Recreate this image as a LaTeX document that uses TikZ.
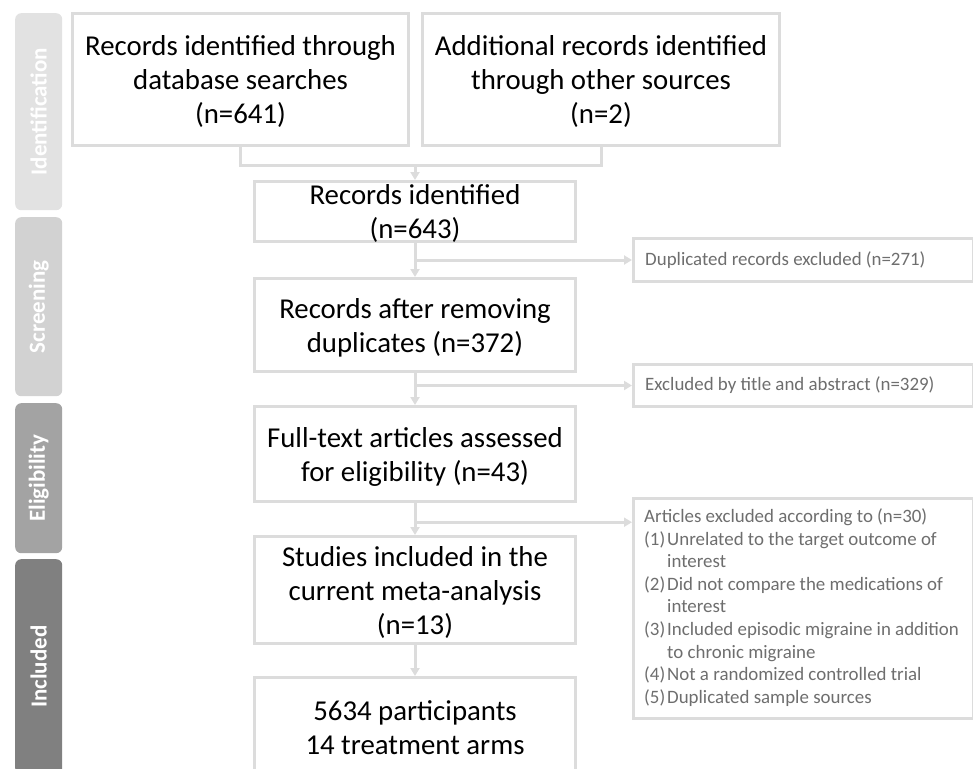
\documentclass[tikz,border=0pt]{standalone}
\usepackage{fontspec}
\setmainfont{Carlito}
\usetikzlibrary{arrows.meta,calc}
\definecolor{linegray}{RGB}{220,220,220}
\definecolor{smalltext}{RGB}{110,110,110}
\definecolor{tabA}{RGB}{226,226,226}
\definecolor{tabB}{RGB}{210,210,210}
\definecolor{tabC}{RGB}{163,163,163}
\definecolor{tabD}{RGB}{128,128,128}
\newcommand{\bigtext}{\fontsize{28.8}{34}\selectfont}
\newcommand{\smalltxt}{\fontsize{18.9}{22.6}\selectfont}
\newcommand{\tabtext}{\fontsize{23}{27}\selectfont\bfseries}
\begin{document}
\begin{tikzpicture}[x=1pt,y=-1pt,
 stagebox/.style={draw=linegray, line width=3pt, fill=white, align=center, inner sep=0pt, font=\bigtext, text=black, text depth=0pt, anchor=north west},
 sidebox/.style={draw=linegray, line width=3pt, fill=white, inner sep=0pt, anchor=north west, minimum width=340pt},
 sidetext/.style={align=flush left, inner sep=0pt, font=\smalltxt, text=smalltext, anchor=west},
 tabbox/.style={rounded corners=6pt, draw=none, minimum width=47pt, anchor=north west, inner sep=0pt},
 tablabel/.style={rotate=90, text=white, font=\tabtext},
 conn/.style={draw=linegray, line width=3pt},
 arr/.style={conn, -{Triangle[length=8pt,width=9pt]}}
]
\useasboundingbox (0,0) rectangle (973,768);
\begin{scope}
\clip (0,0) rectangle (973,768);
% stage tabs
\node[tabbox, fill=tabA, minimum height=197pt] (t1) at (15,13) {};
\node[tablabel] (l1) at (t1.center) {Identification};
\node[tabbox, fill=tabB, minimum height=179pt] (t2) at (15,217) {};
\node[tablabel] (l2) at (t2.center) {Screening};
\node[tabbox, fill=tabC, minimum height=150pt] (t3) at (15,403) {};
\node[tablabel] (l3) at (t3.center) {Eligibility};
\node[tabbox, fill=tabD, minimum height=215pt] (t4) at (15,559) {};
\node[tablabel] (l4) at (t4.center) {Included};
% main boxes
\node[stagebox, minimum width=336pt, minimum height=132pt] (b1) at (71,12) {Records identified through\\database searches\\(n=641)};
\node[stagebox, minimum width=357pt, minimum height=132pt] (b2) at (421,12) {Additional records identified\\through other sources\\(n=2)};
\node[stagebox, minimum width=321pt, minimum height=60pt] (b3) at (253,180) {Records identified\\(n=643)};
\node[stagebox, minimum width=321pt, minimum height=93pt] (b4) at (253,277) {Records after removing\\duplicates (n=372)};
\node[stagebox, minimum width=321pt, minimum height=95pt] (b5) at (253,405) {Full-text articles assessed\\for eligibility (n=43)};
\node[stagebox, minimum width=321pt, minimum height=107pt] (b6) at (253,535) {Studies included in the\\current meta-analysis\\(n=13)};
\node[stagebox, minimum width=321pt, minimum height=100pt] (b7) at (253,676) {5634 participants\\14 treatment arms};
% side boxes
\node[sidebox, minimum height=43pt] (s1) at (632,237) {};
\node[sidetext] (s1t) at ($(s1.west)+(13,0)$) {Duplicated records excluded (n=271)};
\node[sidebox, minimum height=42pt] (s2) at (632,363) {};
\node[sidetext] (s2t) at ($(s2.west)+(13,0)$) {Excluded by title and abstract (n=329)};
\node[sidebox, minimum height=220pt] (s3) at (632,497) {};
\node[sidetext] (s3t) at ($(s3.west)+(12,-1)$) {Articles excluded according to (n=30)\\
\makebox[23pt][l]{(1)}Unrelated to the target outcome of\\
\hspace*{23pt}interest\\
\makebox[23pt][l]{(2)}Did not compare the medications of\\
\hspace*{23pt}interest\\
\makebox[23pt][l]{(3)}Included episodic migraine in addition\\
\hspace*{23pt}to chronic migraine\\
\makebox[23pt][l]{(4)}Not a randomized controlled trial\\
\makebox[23pt][l]{(5)}Duplicated sample sources};
% connectors
\coordinate (m1) at ($(b1.south)+(0,18)$);
\draw[conn] (b1.south) -- (m1) -| (b2.south);
\coordinate (m2) at (b3.north |- m1);
\draw[arr] (m2) -- (b3.north);
\draw[arr] (b3.south) -- (b4.north);
\draw[arr] (b3.south |- s1.west) -- (s1.west);
\draw[arr] (b4.south) -- (b5.north);
\draw[arr] (b4.south |- s2.west) -- (s2.west);
\draw[arr] (b5.south) -- (b6.north);
\coordinate (m3) at ($(b5.south)!0.6!(b6.north)$);
\draw[arr] (m3) -- (m3 -| s3.west);
\draw[arr] (b6.south) -- (b7.north);
\end{scope}
\end{tikzpicture}
\end{document}
